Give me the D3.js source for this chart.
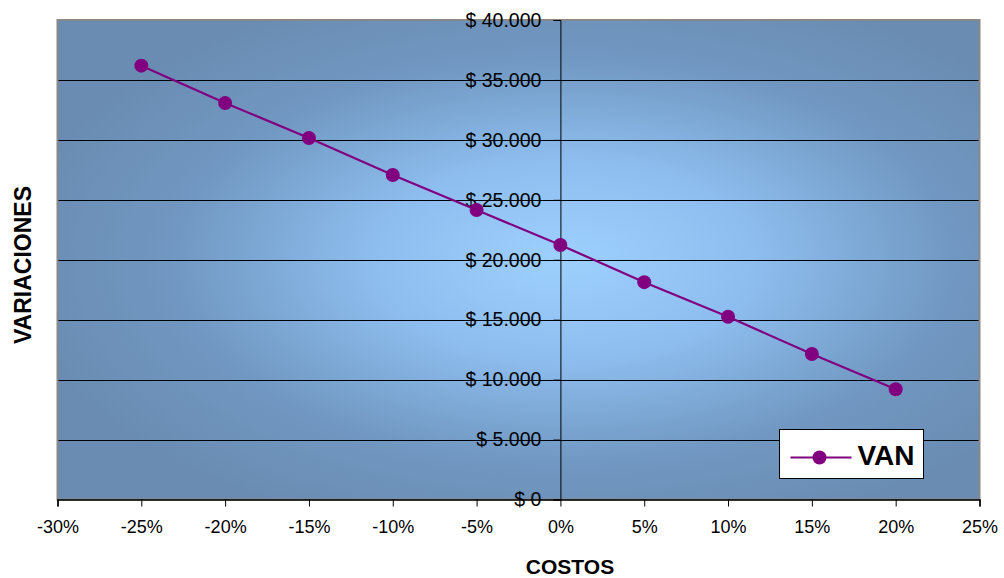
<!DOCTYPE html>
<html>
<head>
<meta charset="utf-8">
<script src="https://cdn.jsdelivr.net/npm/d3@7"></script>
<style>
  body { margin: 0; background: #fff; }
  svg text { font-family: "Liberation Sans", Arial, sans-serif; }
</style>
</head>
<body>
<div id="chart"></div>
<script>
// Data
var costos = [-0.25, -0.20, -0.15, -0.10, -0.05, 0, 0.05, 0.10, 0.15, 0.20];
var van = [36190, 33080, 30160, 27070, 24150, 21230, 18130, 15240, 12140, 9200];
var xTicks = [-0.30, -0.25, -0.20, -0.15, -0.10, -0.05, 0, 0.05, 0.10, 0.15, 0.20, 0.25];
var yTicks = [0, 5000, 10000, 15000, 20000, 25000, 30000, 35000, 40000];

var W = 1004, H = 578;
var plot = { left: 57.5, right: 979.5, top: 20, bottom: 499.5 };

var svg = d3.select("#chart").append("svg")
  .attr("width", W)
  .attr("height", H);

var x = d3.scaleLinear().domain([-0.30, 0.25]).range([plot.left, plot.right]);
var y = d3.scaleLinear().domain([0, 40000]).range([plot.bottom, plot.top]);

// Background gradient (light in the middle, darker towards the edges)
var defs = svg.append("defs");
var grad = defs.append("radialGradient")
  .attr("id", "bg")
  .attr("cx", 0.55).attr("cy", 0.5)
  .attr("fx", 0.55).attr("fy", 0.5)
  .attr("r", 0.6);
grad.append("stop").attr("offset", "0%").attr("stop-color", "#9ed0fe");
grad.append("stop").attr("offset", "35%").attr("stop-color", "#8dbdee");
grad.append("stop").attr("offset", "70%").attr("stop-color", "#7198c2");
grad.append("stop").attr("offset", "100%").attr("stop-color", "#6a8cb2");

svg.append("rect")
  .attr("x", plot.left)
  .attr("y", plot.top)
  .attr("width", plot.right - plot.left)
  .attr("height", plot.bottom - plot.top)
  .attr("fill", "url(#bg)")
  .attr("stroke", "#888")
  .attr("stroke-width", 2);

// Horizontal gridlines
svg.append("g")
  .selectAll("line")
  .data(yTicks.filter(function (d) { return d > 0 && d < 40000; }))
  .enter()
  .append("line")
  .attr("x1", plot.left + 1)
  .attr("x2", plot.right - 1)
  .attr("y1", function (d) { return Math.round(y(d)) + 0.5; })
  .attr("y2", function (d) { return Math.round(y(d)) + 0.5; })
  .attr("stroke", "#000")
  .attr("stroke-width", 1);

// X axis
var xAxis = svg.append("g")
  .attr("transform", "translate(0," + plot.bottom + ")")
  .call(d3.axisBottom(x)
    .tickValues(xTicks)
    .tickSize(7)
    .tickPadding(14)
    .tickFormat(function (d) { return Math.round(d * 100) + "%"; }));
xAxis.select(".domain").attr("stroke", "#000").attr("stroke-width", 1.5);
xAxis.selectAll(".tick line").attr("stroke", "#000");
xAxis.selectAll("text")
  .style("font-size", "18px")
  .attr("fill", "#000");

// Y axis, crossing at 0%
var yAxis = svg.append("g")
  .attr("transform", "translate(" + x(0) + ",0)")
  .call(d3.axisLeft(y)
    .tickValues(yTicks)
    .tickSize(7)
    .tickPadding(12)
    .tickFormat(function (d) { return "$ " + d3.format(",")(d).replace(/,/g, "."); }));
yAxis.select(".domain").attr("stroke", "#000").attr("stroke-width", 1);
yAxis.selectAll(".tick line").attr("stroke", "#000");
yAxis.selectAll("text")
  .style("font-size", "19.5px")
  .attr("fill", "#000");

// VAN line
var line = d3.line()
  .x(function (d, i) { return x(costos[i]); })
  .y(function (d) { return y(d); });

svg.append("path")
  .datum(van)
  .attr("d", line)
  .attr("fill", "none")
  .attr("stroke", "#800080")
  .attr("stroke-width", 2.2);

svg.append("g")
  .selectAll("circle")
  .data(van)
  .enter()
  .append("circle")
  .attr("cx", function (d, i) { return x(costos[i]); })
  .attr("cy", function (d) { return y(d); })
  .attr("r", 7)
  .attr("fill", "#800080");

// Axis titles
svg.append("text")
  .attr("x", 570)
  .attr("y", 574)
  .attr("text-anchor", "middle")
  .style("font-size", "21px")
  .style("font-weight", "bold")
  .text("COSTOS");

svg.append("text")
  .attr("transform", "translate(31,265) rotate(-90)")
  .attr("text-anchor", "middle")
  .style("font-size", "23px")
  .style("font-weight", "bold")
  .text("VARIACIONES");

// Legend
var legend = svg.append("g").attr("transform", "translate(779.5,429.5)");
legend.append("rect")
  .attr("width", 144)
  .attr("height", 49)
  .attr("fill", "#fff")
  .attr("stroke", "#000")
  .attr("stroke-width", 1);
legend.append("line")
  .attr("x1", 11).attr("x2", 72)
  .attr("y1", 28).attr("y2", 28)
  .attr("stroke", "#800080")
  .attr("stroke-width", 2.2);
legend.append("circle")
  .attr("cx", 40).attr("cy", 28).attr("r", 7)
  .attr("fill", "#800080");
legend.append("text")
  .attr("x", 78)
  .attr("y", 35)
  .style("font-size", "28px")
  .style("font-weight", "bold")
  .text("VAN");
</script>
</body>
</html>
